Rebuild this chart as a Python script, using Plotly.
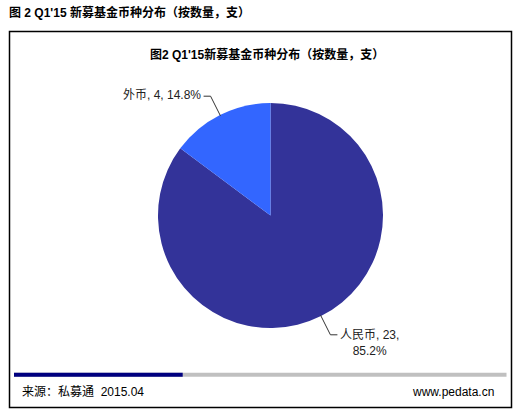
import math

import plotly.graph_objects as go

# data
currencies = ["人民币", "外币"]
fund_counts = [23, 4]
slice_colors = ["#333399", "#3366FF"]

header = "图 2 Q1'15 新募基金币种分布（按数量，支）"
chart_title = "图2 Q1'15新募基金币种分布（按数量，支）"
source_text = "来源：私募通  2015.04"
site_text = "www.pedata.cn"

W, H = 526, 419
CX, CY, R = 270.5, 215.5, 112.5
FONT = "Liberation Sans, Arial, Noto Sans CJK SC"


def px(x):
    return x / W


def py(y):
    return 1 - y / H


fig = go.Figure(
    go.Pie(
        labels=currencies,
        values=fund_counts,
        marker=dict(colors=slice_colors, line=dict(width=0)),
        sort=False,
        direction="clockwise",
        rotation=0,
        textinfo="none",
        hoverinfo="label+value+percent",
        showlegend=False,
        domain=dict(x=[px(CX - R), px(CX + R)], y=[py(CY + R), py(CY - R)]),
    )
)

shapes = [
    # outer frame
    dict(type="rect", xref="paper", yref="paper", x0=px(9.5), x1=px(511.5),
         y0=py(407.5), y1=py(31.5), line=dict(color="#000000", width=1.5)),
    # footer bar
    dict(type="rect", xref="paper", yref="paper", x0=px(14), x1=px(506.5),
         y0=py(376.7), y1=py(372.7), fillcolor="#C0C0C0", line=dict(width=0)),
    dict(type="rect", xref="paper", yref="paper", x0=px(14), x1=px(182.7),
         y0=py(376.7), y1=py(372.7), fillcolor="#000080", line=dict(width=0)),
]

annotations = []
total = sum(fund_counts)
start = 90.0
for name, v in zip(currencies, fund_counts):
    sweep = 360.0 * v / total
    mid = math.radians(start - sweep / 2)
    start -= sweep
    dx, dy = math.cos(mid), -math.sin(mid)
    ex, ey = CX + (R - 1) * dx, CY + (R - 1) * dy
    bx, by = CX + (R + 21) * dx, CY + (R + 21) * dy
    side = 1 if dx >= 0 else -1
    tx = bx + 7 * side
    shapes.append(dict(type="line", xref="paper", yref="paper", x0=px(ex), y0=py(ey),
                       x1=px(bx), y1=py(by), line=dict(color="#333333", width=1)))
    shapes.append(dict(type="line", xref="paper", yref="paper", x0=px(bx), y0=py(by),
                       x1=px(tx), y1=py(by), line=dict(color="#333333", width=1)))
    pct = f"{100 * v / total:.1f}%"
    sep = ",<br>" if len(name) > 2 else ", "
    text = f"{name}, {v}{sep}{pct}"
    annotations.append(dict(
        xref="paper", yref="paper", x=px(tx + side * 1), y=py(by - 1),
        text=text, showarrow=False, xanchor="left" if side > 0 else "right",
        yanchor="top" if "<br>" in text else "middle",
        yshift=8 if "<br>" in text else 0,
        align="center", font=dict(size=12, color="#222222", family=FONT),
    ))

annotations += [
    dict(xref="paper", yref="paper", x=px(7), y=py(13), text=f"<b>{header}</b>",
         showarrow=False, xanchor="left", yanchor="middle",
         font=dict(size=12, color="#000000", family=FONT)),
    dict(xref="paper", yref="paper", x=px(266.5), y=py(54), text=f"<b>{chart_title}</b>",
         showarrow=False, xanchor="center", yanchor="middle",
         font=dict(size=12, color="#000000", family=FONT)),
    dict(xref="paper", yref="paper", x=px(20), y=py(391.5), text=source_text,
         showarrow=False, xanchor="left", yanchor="middle",
         font=dict(size=12, color="#000000", family=FONT)),
    dict(xref="paper", yref="paper", x=px(496), y=py(391.5), text=site_text,
         showarrow=False, xanchor="right", yanchor="middle",
         font=dict(size=12, color="#000000", family=FONT)),
]

fig.update_layout(
    width=W,
    height=H,
    margin=dict(l=0, r=0, t=0, b=0),
    paper_bgcolor="#FFFFFF",
    plot_bgcolor="#FFFFFF",
    shapes=shapes,
    annotations=annotations,
)

# the page body has a default 8px margin; drop it so the figure fills the window
fig.write_html(
    "out.html",
    config={"displayModeBar": False},
    post_script="document.body.style.margin='0';",
)
